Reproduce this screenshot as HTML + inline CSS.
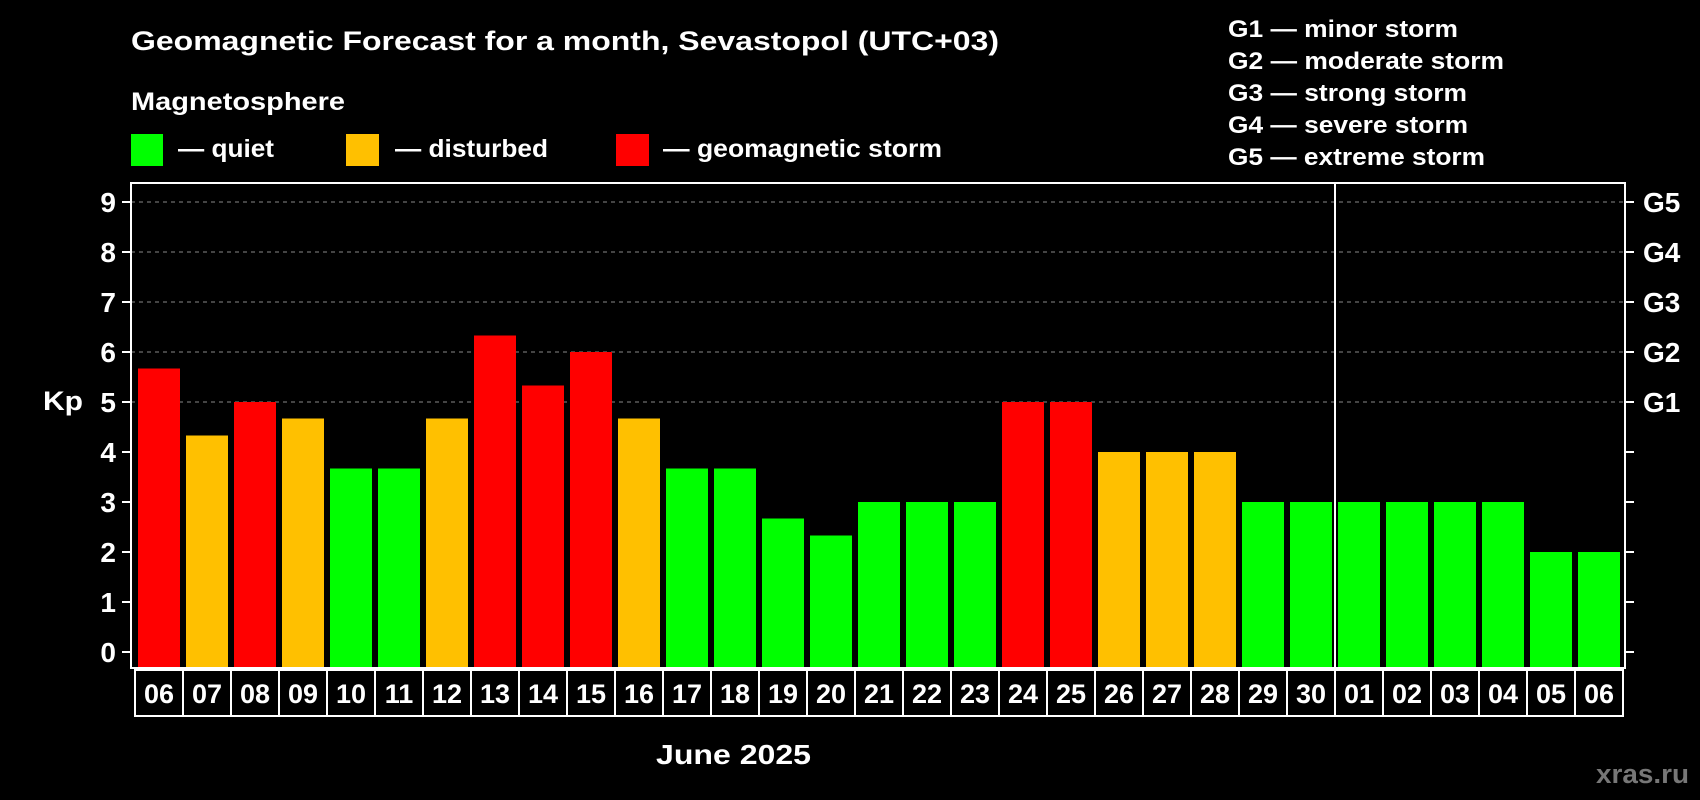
<!DOCTYPE html>
<html><head><meta charset="utf-8"><style>
html,body{margin:0;padding:0;background:#000;}
svg{display:block;font-family:"Liberation Sans",sans-serif;font-weight:bold;}
</style></head><body>
<svg width="1700" height="800" viewBox="0 0 1700 800">
<text x="131" y="50" fill="#fff" font-size="27" textLength="868" lengthAdjust="spacingAndGlyphs">Geomagnetic Forecast for a month, Sevastopol (UTC+03)</text>
<text x="131" y="110" fill="#fff" font-size="25" textLength="214" lengthAdjust="spacingAndGlyphs">Magnetosphere</text>
<g><rect x="131" y="134" width="32" height="32" fill="#00ff00"/><text x="178" y="157" fill="#fff" font-size="25" textLength="96" lengthAdjust="spacingAndGlyphs">— quiet</text></g>
<g><rect x="346" y="134" width="33" height="32" fill="#ffc000"/><text x="395" y="157" fill="#fff" font-size="25" textLength="153" lengthAdjust="spacingAndGlyphs">— disturbed</text></g>
<g><rect x="616" y="134" width="33" height="32" fill="#ff0000"/><text x="663" y="157" fill="#fff" font-size="25" textLength="279" lengthAdjust="spacingAndGlyphs">— geomagnetic storm</text></g>
<g fill="#fff" font-size="24" lengthAdjust="spacingAndGlyphs">
<text x="1228" y="37" textLength="230" lengthAdjust="spacingAndGlyphs">G1 — minor storm</text>
<text x="1228" y="69" textLength="276" lengthAdjust="spacingAndGlyphs">G2 — moderate storm</text>
<text x="1228" y="101" textLength="239" lengthAdjust="spacingAndGlyphs">G3 — strong storm</text>
<text x="1228" y="133" textLength="240" lengthAdjust="spacingAndGlyphs">G4 — severe storm</text>
<text x="1228" y="165" textLength="257" lengthAdjust="spacingAndGlyphs">G5 — extreme storm</text>
</g>
<g id="grid"></g>
<g id="bars"></g>
<rect x="131" y="183" width="1494" height="485" fill="none" stroke="#fff" stroke-width="2"/>
<line x1="1335" y1="183" x2="1335" y2="668" stroke="#fff" stroke-width="2"/>
<g id="axes"></g>
<g id="dates"></g>
<text x="43" y="410" fill="#fff" font-size="27" textLength="40" lengthAdjust="spacingAndGlyphs">Kp</text>
<text x="656" y="764" fill="#fff" font-size="28" textLength="155" lengthAdjust="spacingAndGlyphs">June 2025</text>
<text x="1596" y="783" fill="#777" font-size="27" textLength="93" lengthAdjust="spacingAndGlyphs">xras.ru</text>
</svg>
<script>
const dates=["06","07","08","09","10","11","12","13","14","15","16","17","18","19","20","21","22","23","24","25","26","27","28","29","30","01","02","03","04","05","06"];
const kpValues=[5.67,4.33,5,4.67,3.67,3.67,4.67,6.33,5.33,6,4.67,3.67,3.67,2.67,2.33,3,3,3,5,5,4,4,4,3,3,3,3,3,3,2,2];
const yTicks=[0,1,2,3,4,5,6,7,8,9];
const gLabels=["","","","","","G1","G2","G3","G4","G5"];
const NS="http://www.w3.org/2000/svg";
const y0=652,unit=50,plotBottom=667;
function yScale(v){return y0-v*unit;}
function xScale(i){return 135+48*i;}
function colorFor(v){return v>=5?"#ff0000":(v>=4?"#ffc000":"#00ff00");}
function mk(tag,attrs,parent){const e=document.createElementNS(NS,tag);for(const k in attrs)e.setAttribute(k,attrs[k]);parent.appendChild(e);return e;}
const grid=document.getElementById("grid"),bars=document.getElementById("bars"),axes=document.getElementById("axes"),dg=document.getElementById("dates");
yTicks.forEach((t,i)=>{
  const y=yScale(t);
  if(t>=5){const l=mk("line",{x1:131,x2:1625,y1:y,y2:y,stroke:"#888","stroke-width":1,"stroke-dasharray":"4,4"},grid);
  
  }
  const tl=mk("line",{x1:122,x2:131,y1:y,y2:y,stroke:"#fff","stroke-width":2},axes);
  
  
  const tr=mk("line",{x1:1625,x2:1634,y1:y,y2:y,stroke:"#fff","stroke-width":2},axes);
  
  
  const tx=mk("text",{x:116,y:y+10,fill:"#fff","font-size":28,"text-anchor":"end"},axes);
  tx.textContent=String(t);
  
  
  if(gLabels[i]){const g=mk("text",{x:1643,y:y+10,fill:"#fff","font-size":28},axes);
  g.textContent=gLabels[i];
  
  }
});
kpValues.forEach((v,i)=>{
  const x=xScale(i),y=yScale(v);
  const r=mk("rect",{x:x+3,y:y,width:42,height:plotBottom-y,fill:colorFor(v)},bars);
  
  
  const b=mk("rect",{x:x,y:670,width:48,height:46,fill:"none",stroke:"#fff","stroke-width":2},dg);
  
  
  const t=mk("text",{x:x+24,y:703,fill:"#fff","font-size":27,"text-anchor":"middle"},dg);
  t.textContent=dates[i];
  
  
});
</script>
</body></html>
